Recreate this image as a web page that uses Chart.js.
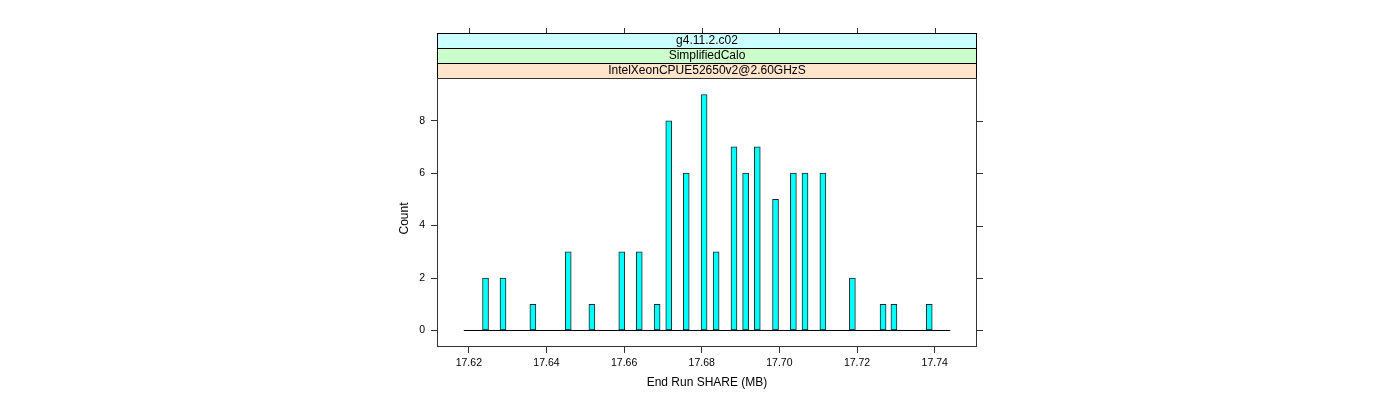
<!DOCTYPE html>
<html>
<head>
<meta charset="utf-8">
<script src="https://cdn.jsdelivr.net/npm/chart.js@4/dist/chart.umd.min.js"></script>
<style>
  html, body { margin: 0; padding: 0; background: #fff; }
  #wrap { width: 1400px; height: 400px; }
</style>
</head>
<body>
<div id="wrap"><canvas id="chart" width="1400" height="400"></canvas></div>
<script>
// Histogram bins (mid points, MB) and counts
const binMids = [
  17.6243, 17.6288, 17.6365, 17.6456, 17.6517, 17.6594, 17.6639, 17.6685,
  17.6715, 17.6760, 17.6806, 17.6837, 17.6883, 17.6913, 17.6943, 17.6990,
  17.7036, 17.7066, 17.7112, 17.7188, 17.7267, 17.7295, 17.7386,
];
const counts = [
  2, 2, 1, 3, 1, 3, 3, 1,
  8, 6, 9, 3, 7, 6, 7, 5,
  6, 6, 6, 2, 1, 1, 1,
];

// baseline drawn under the bars, from data min to max
const baselineX = [17.6187, 17.7440];

const xTicks = [17.62, 17.64, 17.66, 17.68, 17.70, 17.72, 17.74];
const yTicks = [0, 2, 4, 6, 8];
const xRange = [17.6118, 17.7509];
const yRange = [-0.63, 9.63];

// strip labels, outer → inner
const stripLabels = ['g4.11.2.c02', 'SimplifiedCalo', 'IntelXeonCPUE52650v2@2.60GHzS'];
const stripColors = ['#ccffff', '#ccffcc', '#ffe5cc'];

const FONT = '"Liberation Sans", Arial, sans-serif';

// ── Lattice style frame, strips, outer ticks and titles ──────
const latticeFrame = {
  id: 'latticeFrame',
  afterDraw(chart) {
    const { ctx, chartArea: a, scales } = chart;
    const L = a.left, R = a.right, T = a.top, B = a.bottom;
    ctx.save();

    // strips
    const sh = 15;
    stripLabels.forEach((txt, i) => {
      const y0 = T - sh * (stripLabels.length - i);
      ctx.fillStyle = stripColors[i];
      ctx.fillRect(L, y0, R - L, sh);
      ctx.strokeStyle = '#000';
      ctx.lineWidth = 1;
      ctx.strokeRect(L + 0.5, y0 + 0.5, R - L - 1, sh);
      ctx.fillStyle = '#000';
      ctx.font = `12px ${FONT}`;
      ctx.textAlign = 'center';
      ctx.textBaseline = 'middle';
      ctx.fillText(txt, (L + R) / 2, y0 + sh / 2 + 0.5);
    });

    // panel box
    ctx.strokeStyle = '#333';
    ctx.strokeRect(L + 0.5, T + 0.5, R - L - 1, B - T - 1);

    // top ticks above the strips, right ticks
    const topY = T - sh * stripLabels.length;
    ctx.beginPath();
    xTicks.forEach(v => {
      const x = Math.round(scales.x.getPixelForValue(v)) + 0.5;
      ctx.moveTo(x, topY);
      ctx.lineTo(x, topY - 5);
    });
    yTicks.forEach(v => {
      const y = Math.round(scales.y.getPixelForValue(v)) + 0.5;
      ctx.moveTo(R, y);
      ctx.lineTo(R + 6, y);
    });
    ctx.stroke();

    // axis titles
    ctx.fillStyle = '#000';
    ctx.font = `12px ${FONT}`;
    ctx.textAlign = 'center';
    ctx.textBaseline = 'middle';
    ctx.fillText('End Run SHARE (MB)', (L + R) / 2, 383);
    ctx.translate(405, (T + B) / 2 + 6);
    ctx.rotate(-Math.PI / 2);
    ctx.fillText('Count', 0, 0);
    ctx.restore();
  },
};

new Chart(document.getElementById('chart'), {
  data: {
    datasets: [
      {
        type: 'line',
        data: baselineX.map(x => ({ x, y: 0 })),
        borderColor: '#000',
        borderWidth: 1,
        pointRadius: 0,
        order: 2,
      },
      {
        type: 'bar',
        data: binMids.map((x, i) => ({ x, y: counts[i] })),
        backgroundColor: '#00ffff',
        borderColor: '#222',
        borderWidth: 1,
        borderSkipped: false,
        barThickness: 6,
        order: 1,
      },
    ],
  },
  options: {
    responsive: false,
    animation: false,
    layout: { padding: { left: 0, right: 423, top: 78, bottom: 0 } },
    plugins: { legend: { display: false }, tooltip: { enabled: false } },
    scales: {
      x: {
        type: 'linear',
        min: xRange[0],
        max: xRange[1],
        offset: false,
        afterFit: s => { s.height = 53; },
        afterBuildTicks: s => { s.ticks = xTicks.map(value => ({ value })); },
        border: { display: false },
        grid: { offset: false, drawOnChartArea: false, drawTicks: true, tickLength: 6, color: '#333' },
        ticks: {
          color: '#000',
          font: { family: FONT, size: 10.5 },
          padding: 4,
          maxRotation: 0,
          callback: v => v.toFixed(2),
        },
      },
      y: {
        type: 'linear',
        min: yRange[0],
        max: yRange[1],
        afterFit: s => { s.width = 437; },
        afterBuildTicks: s => { s.ticks = yTicks.map(value => ({ value })); },
        border: { display: false },
        grid: { drawOnChartArea: false, drawTicks: true, tickLength: 6, color: '#333' },
        ticks: {
          color: '#000',
          font: { family: FONT, size: 10.5 },
          padding: 6,
        },
      },
    },
  },
  plugins: [latticeFrame],
});
</script>
</body>
</html>
